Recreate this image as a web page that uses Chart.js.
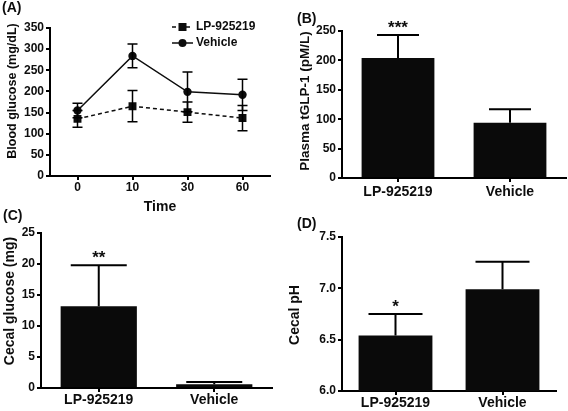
<!DOCTYPE html>
<html>
<head>
<meta charset="utf-8">
<script src="https://cdn.jsdelivr.net/npm/chart.js@4.4.0/dist/chart.umd.min.js"></script>
<style>
  html, body { margin: 0; padding: 0; background: #fff; }
  #root { position: relative; width: 568px; height: 411px; overflow: hidden; }
  canvas { position: absolute; }
</style>
</head>
<body>
<div id="root">
  <canvas id="chartA" width="284" height="216" style="left:0;top:0"></canvas>
  <canvas id="chartB" width="284" height="205" style="left:284px;top:0"></canvas>
  <canvas id="chartC" width="284" height="206" style="left:0;top:205px"></canvas>
  <canvas id="chartD" width="284" height="206" style="left:284px;top:205px"></canvas>
</div>
<script>
// panel A - blood glucose over time
const timeLabels = ["0", "10", "30", "60"];
const lpGlucose = [135, 165, 151, 137];
const lpGlucoseSem = [20, 37, 24, 30];
const vehGlucose = [155, 284, 199, 192];
const vehGlucoseSem = [17, 28, 47, 37];

// panels B-D - two groups
const groups = ["LP-925219", "Vehicle"];
const glp1 = [204, 94];
const glp1Sem = [39, 23];
const glp1Stars = ["***", ""];
const cecalGlucose = [13.2, 0.6];
const cecalGlucoseSem = [6.6, 0.35];
const cecalGlucoseStars = ["**", ""];
const cecalPh = [6.54, 6.99];
const cecalPhSem = [0.21, 0.27];
const cecalPhStars = ["*", ""];

const FONT = "'Liberation Sans', Arial, Helvetica, sans-serif";
const INK = "#0d0d0d";
Chart.defaults.font.family = FONT;
Chart.defaults.font.weight = "bold";
Chart.defaults.color = INK;
Chart.defaults.animation = false;

const errorBars = {
  id: "errorBars",
  afterDatasetsDraw(chart, args, opts) {
    const ctx = chart.ctx;
    const y = chart.scales.y;
    ctx.save();
    ctx.strokeStyle = "#000";
    ctx.lineWidth = opts.width;
    chart.data.datasets.forEach((ds, i) => {
      if (!ds.sem) return;
      chart.getDatasetMeta(i).data.forEach((el, j) => {
        const top = y.getPixelForValue(ds.data[j] + ds.sem[j]);
        const bot = opts.both ? y.getPixelForValue(ds.data[j] - ds.sem[j]) : el.y;
        ctx.beginPath();
        ctx.moveTo(el.x, bot);
        ctx.lineTo(el.x, top);
        ctx.moveTo(el.x - opts.cap, top);
        ctx.lineTo(el.x + opts.cap, top);
        if (opts.both) {
          ctx.moveTo(el.x - opts.cap, bot);
          ctx.lineTo(el.x + opts.cap, bot);
        }
        ctx.stroke();
      });
    });
    ctx.restore();
  }
};

const stars = {
  id: "stars",
  afterDatasetsDraw(chart, args, opts) {
    if (!opts.marks) return;
    const ctx = chart.ctx;
    const ds = chart.data.datasets[0];
    const y = chart.scales.y;
    ctx.save();
    ctx.fillStyle = INK;
    ctx.font = `bold ${opts.size}px ${FONT}`;
    ctx.textAlign = "center";
    ctx.textBaseline = "alphabetic";
    chart.getDatasetMeta(0).data.forEach((el, j) => {
      if (!opts.marks[j]) return;
      const top = y.getPixelForValue(ds.data[j] + ds.sem[j]);
      ctx.fillText(opts.marks[j], el.x, top - opts.gap);
    });
    ctx.restore();
  }
};

const panelText = {
  id: "panelText",
  afterDraw(chart, args, opts) {
    const ctx = chart.ctx;
    ctx.save();
    ctx.fillStyle = INK;
    ctx.font = `bold 14px ${FONT}`;
    ctx.textBaseline = "middle";
    ctx.textAlign = "left";
    ctx.fillText(opts.label, opts.labelX, opts.labelY);
    ctx.font = `bold ${opts.titleSize}px ${FONT}`;
    ctx.translate(opts.titleX, opts.titleY);
    ctx.rotate(-Math.PI / 2);
    ctx.textAlign = "center";
    ctx.fillText(opts.title, 0, 0);
    ctx.restore();
  }
};

// legend with the line running through the marker
const lineLegend = {
  id: "lineLegend",
  afterDraw(chart, args, opts) {
    if (!opts.x) return;
    const ctx = chart.ctx;
    chart.data.datasets.forEach((ds, i) => {
      const y = opts.y + i * opts.gap;
      const mx = opts.x + opts.len / 2;
      ctx.save();
      ctx.strokeStyle = ds.borderColor;
      ctx.fillStyle = ds.pointBackgroundColor;
      ctx.lineWidth = ds.borderWidth;
      ctx.setLineDash(ds.borderDash || []);
      ctx.beginPath();
      ctx.moveTo(opts.x, y);
      ctx.lineTo(opts.x + opts.len, y);
      ctx.stroke();
      ctx.setLineDash([]);
      if (ds.pointStyle === "rect") {
        ctx.fillRect(mx - 4, y - 4, 8, 8);
      } else {
        ctx.beginPath();
        ctx.arc(mx, y, 4, 0, Math.PI * 2);
        ctx.fill();
      }
      ctx.font = `bold 12px ${FONT}`;
      ctx.textBaseline = "middle";
      ctx.fillStyle = INK;
      ctx.fillText(ds.label, opts.x + opts.len + 3, y);
      ctx.restore();
    });
  }
};

function yAxis(min, max, step, width, fmt) {
  return {
    min: min,
    max: max,
    border: { color: "#000", width: 2 },
    grid: { drawOnChartArea: false, color: "#000", lineWidth: 2, tickLength: 4 },
    ticks: { stepSize: step, padding: 2, color: INK, font: { size: 12, weight: "bold" }, callback: fmt },
    afterFit(scale) { scale.width = width; }
  };
}

function xAxis(height, size, pad) {
  return {
    border: { color: "#000", width: 2 },
    grid: { drawOnChartArea: false, offset: false, color: "#000", lineWidth: 2, tickLength: 4 },
    ticks: { padding: pad, color: INK, font: { size: size, weight: "bold" }, maxRotation: 0 },
    afterFit(scale) { scale.height = height; }
  };
}

new Chart(document.getElementById("chartA"), {
  type: "line",
  data: {
    labels: timeLabels,
    datasets: [
      {
        label: "LP-925219",
        data: lpGlucose,
        sem: lpGlucoseSem,
        borderColor: INK,
        borderWidth: 1.5,
        borderDash: [4, 3],
        pointStyle: "rect",
        pointRadius: 5.6,
        pointBackgroundColor: INK,
        pointBorderWidth: 0
      },
      {
        label: "Vehicle",
        data: vehGlucose,
        sem: vehGlucoseSem,
        borderColor: INK,
        borderWidth: 1.5,
        pointStyle: "circle",
        pointRadius: 4.2,
        pointBackgroundColor: INK,
        pointBorderWidth: 0
      }
    ]
  },
  options: {
    responsive: false,
    layout: { padding: { left: 0, top: 28, right: 14, bottom: 0 } },
    plugins: {
      legend: { display: false },
      tooltip: { enabled: false },
      errorBars: { cap: 5, width: 1.5, both: true },
      lineLegend: { x: 172, y: 27, gap: 16, len: 21 },
      panelText: { label: "(A)", labelX: 2, labelY: 8, title: "Blood glucose (mg/dL)", titleSize: 12.5, titleX: 13, titleY: 91 }
    },
    scales: {
      x: Object.assign(xAxis(40, 12, 0), {
        offset: true,
        title: { display: true, text: "Time", color: INK, font: { size: 14, weight: "bold" }, padding: { top: 0, bottom: 0 } }
      }),
      y: yAxis(0, 350, 50, 50)
    }
  },
  plugins: [errorBars, lineLegend, panelText]
});

function barPanel(id, values, sem, marks, cfg) {
  new Chart(document.getElementById(id), {
    type: "bar",
    data: {
      labels: groups,
      datasets: [{
        data: values,
        sem: sem,
        backgroundColor: "#0a0a0a",
        borderWidth: 0,
        barPercentage: cfg.barPct,
        categoryPercentage: 1
      }]
    },
    options: {
      responsive: false,
      layout: { padding: cfg.padding },
      plugins: {
        legend: { display: false },
        tooltip: { enabled: false },
        errorBars: { cap: cfg.cap, width: 2, both: false },
        stars: { marks: marks, size: 17, gap: 2 },
        panelText: cfg.text
      },
      scales: {
        x: xAxis(cfg.xHeight, 14, cfg.xPad),
        y: yAxis(cfg.min, cfg.max, cfg.step, cfg.yWidth, cfg.fmt)
      }
    },
    plugins: [errorBars, stars, panelText]
  });
}

barPanel("chartB", glp1, glp1Sem, glp1Stars, {
  padding: { left: 0, top: 31, right: 2, bottom: 0 },
  min: 0, max: 250, step: 50, yWidth: 58, xHeight: 27, xPad: 2, cap: 21, barPct: 0.65,
  text: { label: "(B)", labelX: 13, labelY: 19, title: "Plasma tGLP-1 (pM/L)", titleSize: 13.5, titleX: 21, titleY: 101 }
});

barPanel("chartC", cecalGlucose, cecalGlucoseSem, cecalGlucoseStars, {
  padding: { left: 0, top: 28, right: 12, bottom: 0 },
  min: 0, max: 25, step: 5, yWidth: 41, xHeight: 23, xPad: 0, cap: 28, barPct: 0.66,
  text: { label: "(C)", labelX: 3, labelY: 11, title: "Cecal glucose (mg)", titleSize: 14, titleX: 10, titleY: 96 }
});

barPanel("chartD", cecalPh, cecalPhSem, cecalPhStars, {
  padding: { left: 0, top: 32, right: 12, bottom: 0 },
  min: 6, max: 7.5, step: 0.5, yWidth: 58, xHeight: 20, xPad: 0, cap: 27, barPct: 0.69,
  fmt: (v) => v.toFixed(1),
  text: { label: "(D)", labelX: 13, labelY: 19, title: "Cecal pH", titleSize: 14, titleX: 11, titleY: 110 }
});
</script>
</body>
</html>
